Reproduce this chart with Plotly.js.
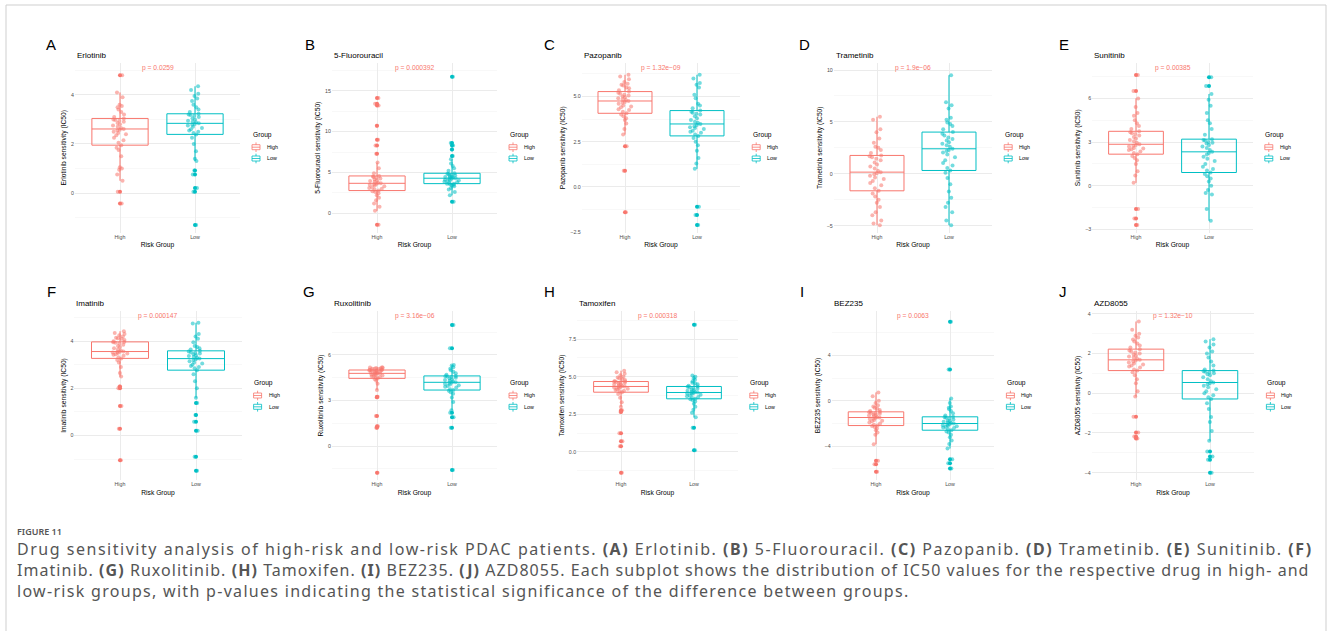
<!DOCTYPE html>
<html>
<head>
<meta charset="utf-8">
<script src="https://cdn.plot.ly/plotly-3.0.1.min.js"></script>
<style>
html,body{margin:0;padding:0;background:#ffffff;}
#chart{width:1330px;height:631px;}
</style>
</head>
<body>
<div id="chart"></div>
<script>
// ---------------- DATA ----------------
const groups = ['High', 'Low'];
const drugs = ['Erlotinib', '5-Fluorouracil', 'Pazopanib', 'Trametinib', 'Sunitinib',
               'Imatinib', 'Ruxolitinib', 'Tamoxifen', 'BEZ235', 'AZD8055'];
const panelLetters = ['A', 'B', 'C', 'D', 'E', 'F', 'G', 'H', 'I', 'J'];
const pValues = ['p = 0.0259', 'p = 0.000392', 'p = 1.32e\u221209', 'p = 1.9e\u221206', 'p = 0.00385',
                 'p = 0.000147', 'p = 3.16e\u221206', 'p = 0.000318', 'p = 0.0063', 'p = 1.32e\u221210'];
const xAxisTitle = 'Risk Group';
const legendTitle = 'Group';

const erlotinibHigh = [-0.43, 0.05, 0.5, 0.75, 0.95, 1.0, 1.05, 1.5, 1.75, 1.85, 1.95,
  2.05, 2.15, 2.25, 2.35, 2.4, 2.45, 2.5, 2.55, 2.58, 2.61,
  2.65, 2.7, 2.75, 2.8, 2.85, 2.9, 2.95, 2.98, 3.0, 3.04,
  3.1, 3.2, 3.3, 3.4, 3.5, 3.55, 3.6, 3.9, 4.1, 4.8];
const erlotinibLow = [-1.3, 0.05, 0.2, 0.75, 0.92, 1.3, 1.4, 1.7, 2.0, 2.25, 2.39,
  2.45, 2.5, 2.55, 2.6, 2.65, 2.7, 2.75, 2.78, 2.81, 2.84,
  2.88, 2.9, 2.95, 3.0, 3.05, 3.1, 3.15, 3.18, 3.2, 3.23,
  3.3, 3.4, 3.5, 3.6, 3.75, 3.85, 3.95, 4.05, 4.2, 4.35];
const fluorouracilHigh = [-1.4, 0.3, 0.8, 1.2, 1.6, 1.9, 2.2, 2.45, 2.6, 2.7, 2.78,
  2.9, 3.0, 3.1, 3.2, 3.3, 3.4, 3.5, 3.55, 3.6, 3.67,
  3.75, 3.85, 3.95, 4.05, 4.15, 4.25, 4.35, 4.45, 4.5, 4.57,
  4.9, 5.5, 6.2, 7.3, 8.3, 9.0, 10.7, 13.2, 13.4, 14.1];
const fluorouracilLow = [1.4, 2.2, 2.6, 2.9, 3.1, 3.3, 3.4, 3.5, 3.55, 3.6, 3.63,
  3.7, 3.8, 3.85, 3.95, 4.0, 4.05, 4.1, 4.2, 4.25, 4.29,
  4.35, 4.4, 4.45, 4.5, 4.6, 4.65, 4.7, 4.8, 4.85, 4.9,
  5.2, 5.5, 5.8, 6.1, 6.6, 7.0, 7.8, 8.3, 8.6, 16.7];
const pazopanibHigh = [-1.4, 0.9, 2.25, 2.9, 3.2, 3.5, 3.7, 3.8, 3.9, 4.0, 4.07,
  4.15, 4.25, 4.3, 4.4, 4.45, 4.5, 4.6, 4.65, 4.7, 4.75,
  4.8, 4.85, 4.9, 4.95, 5.0, 5.05, 5.1, 5.15, 5.2, 5.27,
  5.35, 5.45, 5.5, 5.6, 5.65, 5.7, 5.8, 5.95, 6.1, 6.2];
const pazopanibLow = [-2.1, -1.55, -1.1, 1.0, 1.3, 1.6, 2.0, 2.3, 2.5, 2.7, 2.82,
  2.9, 3.0, 3.05, 3.1, 3.2, 3.25, 3.3, 3.35, 3.42, 3.48,
  3.55, 3.6, 3.7, 3.8, 3.9, 4.0, 4.05, 4.1, 4.15, 4.22,
  4.35, 4.5, 4.6, 4.9, 5.1, 5.5, 5.65, 5.75, 6.0, 6.2];
const trametinibHigh = [-4.95, -4.8, -4.5, -4.0, -3.7, -3.2, -2.8, -2.5, -2.2, -1.9, -1.64,
  -1.4, -1.1, -0.9, -0.7, -0.5, -0.35, -0.2, -0.05, 0.05, 0.16,
  0.3, 0.5, 0.7, 0.9, 1.1, 1.3, 1.45, 1.6, 1.7, 1.77,
  2.0, 2.3, 2.5, 2.6, 3.0, 3.4, 4.0, 4.3, 5.2, 5.5];
const trametinibLow = [-4.95, -4.5, -3.7, -3.2, -2.8, -2.3, -1.7, -1.0, -0.4, 0.1, 0.32,
  0.55, 0.8, 1.05, 1.3, 1.6, 1.85, 2.05, 2.2, 2.3, 2.41,
  2.6, 2.75, 2.9, 3.05, 3.2, 3.35, 3.5, 3.7, 3.85, 4.02,
  4.3, 4.6, 4.8, 4.95, 5.2, 5.4, 6.3, 6.6, 6.9, 9.5];
const sunitinibHigh = [-2.7, -2.25, -1.6, 0.2, 0.7, 1.0, 1.5, 1.75, 1.9, 2.05, 2.17,
  2.25, 2.35, 2.45, 2.5, 2.55, 2.6, 2.7, 2.75, 2.8, 2.85,
  2.95, 3.05, 3.15, 3.25, 3.35, 3.45, 3.55, 3.6, 3.68, 3.74,
  3.9, 4.1, 4.3, 4.5, 4.8, 5.0, 5.4, 6.0, 6.5, 7.6];
const sunitinibLow = [-2.4, -1.6, -0.6, -0.5, -0.3, 0.0, 0.3, 0.5, 0.65, 0.8, 0.91,
  1.05, 1.15, 1.3, 1.5, 1.7, 1.85, 2.0, 2.15, 2.25, 2.33,
  2.45, 2.6, 2.7, 2.8, 2.9, 2.95, 3.0, 3.1, 3.15, 3.2,
  3.5, 3.9, 4.3, 4.5, 5.0, 5.5, 5.9, 6.3, 6.85, 7.45];
const imatinibHigh = [-1.05, 0.28, 1.25, 2.0, 2.08, 2.5, 2.65, 2.9, 3.1, 3.2, 3.27,
  3.32, 3.38, 3.42, 3.45, 3.48, 3.5, 3.52, 3.54, 3.55, 3.56,
  3.6, 3.65, 3.7, 3.75, 3.8, 3.85, 3.9, 3.93, 3.95, 3.97,
  4.0, 4.05, 4.1, 4.12, 4.15, 4.2, 4.25, 4.3, 4.35, 4.42];
const imatinibLow = [-1.5, -0.9, 0.2, 0.58, 0.87, 1.38, 1.6, 2.0, 2.3, 2.6, 2.77,
  2.85, 2.9, 2.95, 3.0, 3.05, 3.1, 3.15, 3.2, 3.23, 3.26,
  3.3, 3.33, 3.37, 3.4, 3.45, 3.48, 3.5, 3.53, 3.56, 3.59,
  3.65, 3.7, 3.75, 3.8, 3.95, 4.1, 4.2, 4.3, 4.75, 4.78];
const ruxolitinibHigh = [-1.76, 1.21, 1.3, 1.98, 3.21, 3.25, 3.7, 4.1, 4.3, 4.4, 4.46,
  4.5, 4.55, 4.6, 4.62, 4.65, 4.68, 4.72, 4.75, 4.77, 4.79,
  4.82, 4.85, 4.87, 4.9, 4.92, 4.94, 4.96, 4.98, 5.0, 5.01,
  5.03, 5.05, 5.07, 5.09, 5.1, 5.12, 5.14, 5.16, 5.18, 5.2];
const ruxolitinibLow = [-1.58, 1.21, 1.89, 2.2, 2.35, 2.9, 3.2, 3.45, 3.55, 3.65, 3.69,
  3.75, 3.85, 3.9, 3.95, 4.0, 4.05, 4.1, 4.15, 4.18, 4.2,
  4.25, 4.3, 4.35, 4.4, 4.45, 4.5, 4.55, 4.58, 4.6, 4.62,
  4.7, 4.8, 4.9, 5.0, 5.1, 5.2, 5.3, 5.34, 6.44, 7.98];
const tamoxifenHigh = [-1.38, 0.38, 0.71, 1.24, 2.65, 2.77, 3.0, 3.3, 3.6, 3.85, 3.97,
  4.02, 4.07, 4.12, 4.16, 4.2, 4.24, 4.28, 4.31, 4.33, 4.35,
  4.38, 4.42, 4.46, 4.5, 4.54, 4.58, 4.61, 4.64, 4.66, 4.68,
  4.72, 4.78, 4.85, 4.9, 4.95, 5.0, 5.1, 5.2, 5.3, 5.4];
const tamoxifenLow = [0.11, 1.6, 2.3, 2.6, 2.8, 3.0, 3.2, 3.35, 3.45, 3.5, 3.53,
  3.6, 3.65, 3.7, 3.75, 3.8, 3.85, 3.88, 3.91, 3.93, 3.95,
  3.98, 4.02, 4.06, 4.1, 4.15, 4.2, 4.25, 4.3, 4.33, 4.35,
  4.4, 4.5, 4.55, 4.6, 4.7, 4.8, 4.9, 5.0, 5.08, 8.45];
const bez235High = [-6.26, -5.59, -5.29, -3.82, -3.0, -2.8, -2.6, -2.45, -2.3, -2.22, -2.18,
  -2.1, -2.0, -1.9, -1.8, -1.75, -1.7, -1.6, -1.55, -1.5, -1.47,
  -1.42, -1.35, -1.3, -1.25, -1.2, -1.15, -1.1, -1.05, -1.0, -0.97,
  -0.9, -0.8, -0.7, -0.6, -0.5, -0.4, -0.2, 0.0, 0.4, 0.74];
const bez235Low = [-5.97, -5.5, -5.15, -4.2, -3.8, -3.5, -3.2, -3.0, -2.8, -2.7, -2.59,
  -2.5, -2.4, -2.35, -2.3, -2.25, -2.2, -2.15, -2.1, -2.05, -2.0,
  -1.95, -1.9, -1.85, -1.8, -1.75, -1.65, -1.55, -1.5, -1.45, -1.41,
  -1.3, -1.1, -0.9, -0.75, -0.6, -0.5, -0.2, 0.2, 2.76, 6.97];
const azd8055High = [-2.28, -2.18, -1.98, -1.19, -0.17, 0.1, 0.5, 0.7, 0.9, 1.05, 1.14,
  1.2, 1.3, 1.35, 1.4, 1.45, 1.5, 1.55, 1.6, 1.65, 1.68,
  1.75, 1.8, 1.85, 1.9, 1.95, 2.0, 2.05, 2.1, 2.15, 2.22,
  2.3, 2.4, 2.5, 2.6, 2.7, 2.8, 2.9, 3.0, 3.2, 3.61];
const azd8055Low = [-4.0, -3.35, -3.19, -2.94, -2.39, -1.9, -1.45, -1.2, -0.8, -0.5, -0.29,
  -0.2, -0.1, 0.0, 0.1, 0.2, 0.3, 0.38, 0.45, 0.5, 0.54,
  0.6, 0.7, 0.8, 0.9, 0.95, 1.0, 1.05, 1.08, 1.1, 1.14,
  1.2, 1.4, 1.6, 1.8, 2.0, 2.1, 2.3, 2.45, 2.6, 2.72];

const captionLabel = 'FIGURE 11';
const captionLines = [
  'Drug sensitivity analysis of high-risk and low-risk PDAC patients. <b>(A)</b> Erlotinib. <b>(B)</b> 5-Fluorouracil. <b>(C)</b> Pazopanib. <b>(D)</b> Trametinib. <b>(E)</b> Sunitinib. <b>(F)</b>',
  'Imatinib. <b>(G)</b> Ruxolitinib. <b>(H)</b> Tamoxifen. <b>(I)</b> BEZ235. <b>(J)</b> AZD8055. Each subplot shows the distribution of IC50 values for the respective drug in high- and',
  'low-risk groups, with p-values indicating the statistical significance of the difference between groups.'
];

const panelData = [
  [erlotinibHigh, erlotinibLow], [fluorouracilHigh, fluorouracilLow], [pazopanibHigh, pazopanibLow],
  [trametinibHigh, trametinibLow], [sunitinibHigh, sunitinibLow], [imatinibHigh, imatinibLow],
  [ruxolitinibHigh, ruxolitinibLow], [tamoxifenHigh, tamoxifenLow], [bez235High, bez235Low],
  [azd8055High, azd8055Low]
];

// ---------------- GEOMETRY / STYLE (pixels) ----------------
const W = 1330, H = 631;
const rowTop = [63, 311], rowBottom = [232.5, 480];
const panelGeom = [
  {row:0, left:75,    right:240,    range:[-1.61, 5.30], dtick:2,   fmt:''},
  {row:0, left:332,   right:497,    range:[-2.35, 18.39], dtick:5,  fmt:''},
  {row:0, left:581.8, right:740.2,  range:[-2.52, 6.85], dtick:2.5, fmt:'.1f'},
  {row:0, left:833.8, right:992.2,  range:[-5.66, 10.68], dtick:5,  fmt:''},
  {row:0, left:1092.2,right:1252.8, range:[-3.21, 8.43], dtick:3,   fmt:''},
  {row:1, left:74.4,  right:241.6,  range:[-1.89, 5.28], dtick:2,   fmt:''},
  {row:1, left:332,   right:497,    range:[-2.24, 8.9],  dtick:3,   fmt:''},
  {row:1, left:577.2, right:737.8,  range:[-1.87, 9.37], dtick:2.5, fmt:'.1f'},
  {row:1, left:831.6, right:994.4,  range:[-6.98, 7.92], dtick:4,   fmt:''},
  {row:1, left:1091.6,right:1254.4, range:[-4.37, 4.14], dtick:2,   fmt:''}
];
const letterPos = [[51,45],[310,45],[549,44],[804,45],[1064,45],[51,291],[309,292],[549,292],[802,292],[1063,292]];
const legendRowY = [135, 383.3];
const colors = ['#F8766D', '#00BFC4'];
const FONT = 'Liberation Sans, Arial, Helvetica, sans-serif';
const captionSpacing = [1.52, 1.05, 1.3];   // letter-spacing per caption line (px)

const px = v => v / W;
const py = v => 1 - v / H;

const traces = [];
const layout = {
  width: W, height: H,
  margin: {l:0, r:0, t:0, b:0},
  paper_bgcolor: '#ffffff', plot_bgcolor: 'rgba(0,0,0,0)',
  showlegend: false, boxmode: 'overlay',
  font: {family: FONT, color: '#000'},
  annotations: [], shapes: []
};

panelGeom.forEach((g, i) => {
  const n = i === 0 ? '' : String(i + 1);
  const xa = 'x' + n, ya = 'y' + n;
  const top = rowTop[g.row], bottom = rowBottom[g.row];

  panelData[i].forEach((vals, k) => {
    const common = {
      type: 'box', x: vals.map(() => groups[k]), y: vals,
      xaxis: xa, yaxis: ya, name: groups[k], width: 0.75,
      quartilemethod: 'inclusive', whiskerwidth: 0, pointpos: 0,
      fillcolor: 'rgba(255,255,255,0)', hoverinfo: 'skip'
    };
    traces.push(Object.assign({}, common, {
      boxpoints: 'all', jitter: 0.3,
      line: {color: colors[k], width: 1},
      marker: {color: colors[k], size: 4, opacity: 0.55}
    }));
    traces.push(Object.assign({}, common, {
      boxpoints: 'outliers', jitter: 0,
      line: {color: 'rgba(0,0,0,0)', width: 0},
      marker: {color: colors[k], size: 4, opacity: 1}
    }));
  });

  layout['xaxis' + n] = {
    domain: [px(g.left), px(g.right)], anchor: ya,
    type: 'category', categoryorder: 'array', categoryarray: groups,
    range: [-0.6, 1.6], fixedrange: true,
    showgrid: true, gridcolor: '#EBEBEB', gridwidth: 1,
    zeroline: false, showline: false, ticks: '',
    tickfont: {size: 5.3, color: '#4D4D4D', family: FONT},
    title: {text: xAxisTitle, font: {size: 6.7, color: '#000', family: FONT}, standoff: 3.5}
  };
  layout['yaxis' + n] = {
    domain: [py(bottom), py(top)], anchor: xa,
    range: g.range, fixedrange: true,
    tick0: 0, dtick: g.dtick, tickformat: g.fmt,
    showgrid: true, gridcolor: '#EBEBEB', gridwidth: 1,
    minor: {dtick: g.dtick / 2, tick0: 0, showgrid: true, gridcolor: '#F3F3F3', gridwidth: 0.6},
    zeroline: false, showline: false, ticks: '',
    tickfont: {size: 5.3, color: '#4D4D4D', family: FONT},
    title: {text: drugs[i] + ' sensitivity (IC50)', font: {size: 6.7, color: '#000', family: FONT}, standoff: 3}
  };

  // panel letter
  layout.annotations.push({
    xref: 'paper', yref: 'paper', x: px(letterPos[i][0]), y: py(letterPos[i][1]),
    xanchor: 'center', yanchor: 'middle', showarrow: false,
    text: panelLetters[i], font: {size: 15, color: '#000', family: FONT}
  });
  // panel title
  layout.annotations.push({
    xref: xa + ' domain', yref: ya + ' domain', x: 0, y: 1,
    xanchor: 'left', yanchor: 'middle', yshift: 8, showarrow: false,
    text: drugs[i], font: {size: 8, color: '#000', family: FONT}
  });
  // p value
  layout.annotations.push({
    xref: xa, yref: ya + ' domain', x: 0.5, y: 1,
    xanchor: 'center', yanchor: 'middle', yshift: -5, showarrow: false,
    text: pValues[i], font: {size: 6.7, color: '#F8766D', family: FONT}
  });

  // legend (drawn as ggplot-style key)
  const L = g.right + 10.5;
  const gy = legendRowY[g.row];
  layout.annotations.push({
    xref: 'paper', yref: 'paper', x: px(L), y: py(gy),
    xanchor: 'left', yanchor: 'middle', showarrow: false,
    text: legendTitle, font: {size: 6.7, color: '#000', family: FONT}
  });
  groups.forEach((grp, k) => {
    const yc = gy + 12.2 + k * 11.3;
    const cx = L + 5.5;
    const c = colors[k];
    layout.shapes.push({type: 'rect', xref: 'paper', yref: 'paper',
      x0: px(cx - 4), x1: px(cx + 4), y0: py(yc + 2.5), y1: py(yc - 2.5),
      line: {color: c, width: 0.8}, fillcolor: '#ffffff'});
    layout.shapes.push({type: 'line', xref: 'paper', yref: 'paper',
      x0: px(cx - 4), x1: px(cx + 4), y0: py(yc), y1: py(yc), line: {color: c, width: 0.8}});
    layout.shapes.push({type: 'line', xref: 'paper', yref: 'paper',
      x0: px(cx), x1: px(cx), y0: py(yc - 2.5), y1: py(yc - 4.8), line: {color: c, width: 0.8}});
    layout.shapes.push({type: 'line', xref: 'paper', yref: 'paper',
      x0: px(cx), x1: px(cx), y0: py(yc + 2.5), y1: py(yc + 4.8), line: {color: c, width: 0.8}});
    layout.annotations.push({
      xref: 'paper', yref: 'paper', x: px(L + 14.5), y: py(yc),
      xanchor: 'left', yanchor: 'middle', showarrow: false,
      text: grp, font: {size: 5.3, color: '#000', family: FONT}
    });
  });
});

// outer frame
layout.shapes.push({type: 'rect', xref: 'paper', yref: 'paper', layer: 'below',
  x0: px(6), x1: px(1326), y0: py(660), y1: py(5), line: {color: '#CFCFCF', width: 1}, fillcolor: 'rgba(0,0,0,0)'});

// caption
layout.annotations.push({
  xref: 'paper', yref: 'paper', x: px(15), y: py(531.5), xanchor: 'left', yanchor: 'middle',
  showarrow: false, text: captionLabel, font: {size: 9, color: '#555555', family: 'Noto Sans, sans-serif', weight: 600}
});
const captionIndex = layout.annotations.length;
layout.annotations.push({
  xref: 'paper', yref: 'paper', x: px(15), y: py(570), xanchor: 'left', yanchor: 'middle', align: 'left',
  showarrow: false, text: captionLines.join('<br>'),
  font: {size: 16, color: '#555555', family: 'Noto Sans, sans-serif'}
});

// per-line letter spacing of the caption
const css = captionSpacing.map((s, j) =>
  `g.annotation[data-index="${captionIndex}"] tspan.line:nth-of-type(${j + 1}){letter-spacing:${s}px;}`).join('\n');
const st = document.createElement('style');
st.textContent = css;
document.head.appendChild(st);

Plotly.newPlot('chart', traces, layout, {staticPlot: true, displayModeBar: false});
</script>
</body>
</html>
